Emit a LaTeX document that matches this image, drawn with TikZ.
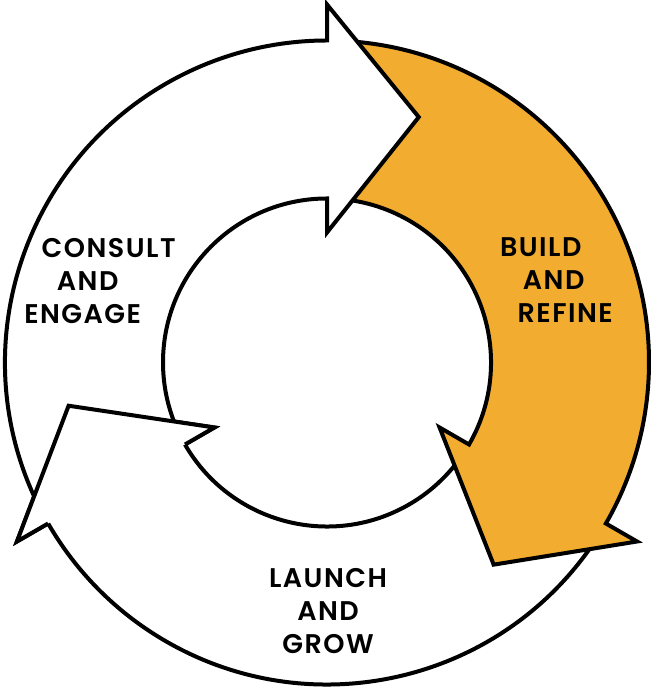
\documentclass[tikz,border=0pt]{standalone}
\usepackage{fontspec}
\setmainfont{Poppins}[UprightFont=* SemiBold, LetterSpace=5.5]
\definecolor{cycorange}{RGB}{242,173,49}
\newcommand\Ro{322}
\newcommand\Ri{164}
\newcommand\Rb{358}
\newcommand\Rn{130}
\newcommand\Rt{262}
\newcommand\cycarrow[4]{%
  \path[cycshape, fill=#4] (#1:\Ro) arc[start angle=#1, end angle=#2, radius=\Ro]
    -- (#2:\Rb) -- (#3:\Rt) -- (#2:\Rn) -- (#2:\Ri)
    arc[start angle=#2, end angle=#1, radius=\Ri] -- cycle;}
\begin{document}
\begin{tikzpicture}[x=1pt,y=1pt,
  cycshape/.style={draw=black, line width=4pt, line join=miter},
  lbl/.style={font=\fontsize{27}{33}\selectfont, inner sep=0pt, text=black}]
\useasboundingbox (0,0) rectangle (656,692);
\begin{scope}[shift={(327,329.5)}]
  % Launch and grow (white)
  \cycarrow{-31.5}{-150}{-170.5}{white}
  % Build and refine (orange)
  \cycarrow{87.5}{-30}{-50.5}{cycorange}
  % Consult and engage (white)
  \cycarrow{-153}{-270}{-290.5}{white}
  % head of Launch arrow over the tail of Consult
  \fill[white] (-150:\Rb) -- (-170.5:\Rt) -- (-150:\Rn) -- cycle;
  \draw[cycshape] (-150:\Ri) -- (-150:\Rn) -- (-170.5:\Rt) -- (-150:\Rb) -- (-150:\Ro);
\end{scope}
\node[lbl, align=left, anchor=west] (consult) at (87.5,410.5)
  {\hspace*{21pt}\makebox[0pt]{CONSULT}\\\makebox[0pt]{AND}\\\hspace*{-5pt}\makebox[0pt]{ENGAGE}};
\node[lbl, align=left, anchor=west] (build) at (553.5,411.5)
  {\hspace*{-13pt}\makebox[0pt]{BUILD}\\\makebox[0pt]{AND}\\\hspace*{11.5pt}\makebox[0pt]{REFINE}};
\node[lbl, align=center] (launch) at (328,81) {LAUNCH\\AND\\GROW};
\end{tikzpicture}
\end{document}
